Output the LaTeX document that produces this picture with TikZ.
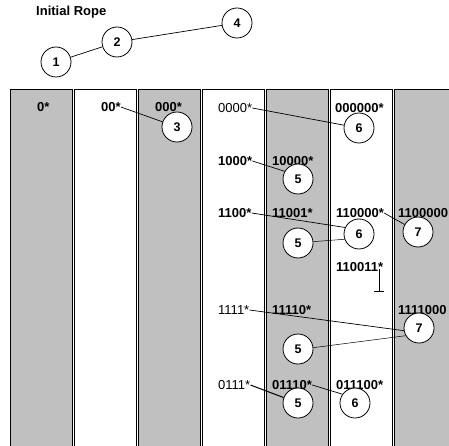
\documentclass[tikz,border=0pt]{standalone}
\usepackage{fontspec}
\setmainfont{Liberation Sans}
\definecolor{colgray}{HTML}{C0C0C0}
\begin{document}
\begin{tikzpicture}[x=1pt,y=-1pt,
  col/.style={draw=black,line width=0.8pt},
  rope/.style={circle,draw=black,fill=white,line width=0.8pt,minimum size=30pt,inner sep=0pt,font=\fontsize{12.5}{14}\selectfont\bfseries},
  lab/.style={anchor=west,inner sep=0pt,font=\fontsize{13}{15}\selectfont},
  blab/.style={anchor=west,inner sep=0pt,font=\fontsize{13}{15}\selectfont\bfseries},
  link/.style={line width=0.7pt},
]
\useasboundingbox (0,0) rectangle (449,446);
\clip (0,0) rectangle (449,446);
% columns
\foreach \x/\c in {10/colgray,74/white,138/colgray,202/white,266/colgray,330/white,394/colgray}
  \filldraw[col,fill=\c] (\x,89) rectangle ++(62,370);
% title
\node[blab] (title) at (36,12) {Initial Rope};
% labels
\node[blab] (l0) at (37,107) {0*};
\node[blab] (l00) at (101,107) {00*};
\node[blab] (l000) at (155,107) {000*};
\node[lab]  (l0000) at (218,108) {0000*};
\node[blab] (l000000) at (335,108) {000000*};
\node[blab] (l1000) at (218,161) {1000*};
\node[blab] (l10000) at (272,161) {10000*};
\node[blab] (l1100) at (218,213) {1100*};
\node[blab] (l11001) at (272,213) {11001*};
\node[blab] (l110000) at (336,213) {110000*};
\node[blab] (l1100000) at (398,213) {1100000};
\node[blab] (l110011) at (336,267) {110011*};
\node[lab]  (l1111) at (218,310) {1111*};
\node[blab] (l11110) at (272,310) {11110*};
\node[blab] (l1111000) at (398,310) {1111000};
\node[lab]  (l0111) at (218,385) {0111*};
\node[blab] (l01110) at (272,385) {01110*};
\node[blab] (l011100) at (336,385) {011100*};
% circles
\node[rope] (c1) at (56,62) {1};
\node[rope] (c2) at (117,42) {2};
\node[rope] (c4) at (237,23) {4};
\node[rope] (c3) at (177,127) {3};
\node[rope] (c6a) at (359,128) {6};
\node[rope] (c5a) at (298,179) {5};
\node[rope] (c6b) at (359,234) {6};
\node[rope] (c5b) at (298,243) {5};
\node[rope] (c7a) at (418,232) {7};
\node[rope] (c7b) at (419,328) {7};
\node[rope] (c5c) at (298,349) {5};
\node[rope] (c5d) at (298,403) {5};
\node[rope] (c6c) at (355,403) {6};
% connectors
\draw[link] (c1) -- (c2);
\draw[link] (c2) -- (c4);
\draw[link] (l00.east) -- (c3);
\draw[link] (l0000.east) -- (c6a);
\draw[link] (l1000.east) -- (c5a.150);
\draw[link] (l1100.east) -- (c6b.155);
\draw[link,line width=0.5pt] (c5b.5) -- (c6b.200);
\draw[link] (l110000.east) -- (c7a);
\draw[link] (l1111.east) -- (c7b.190);
\draw[link,line width=0.5pt] (c5c.5) -- (c7b.210);
\draw[line width=1pt] (l0111.east) -- (c5d);
\draw[link] (l01110.east) -- (c6c.145);
% null pointer
\coordinate (n0) at ([xshift=-4pt,yshift=-2pt]l110011.east);
\coordinate (n1) at ([yshift=-22pt]n0);
\draw[link] (n0) -- (n1);
\draw[link] ([xshift=-5pt]n1) -- ([xshift=5pt]n1);
\end{tikzpicture}
\end{document}
